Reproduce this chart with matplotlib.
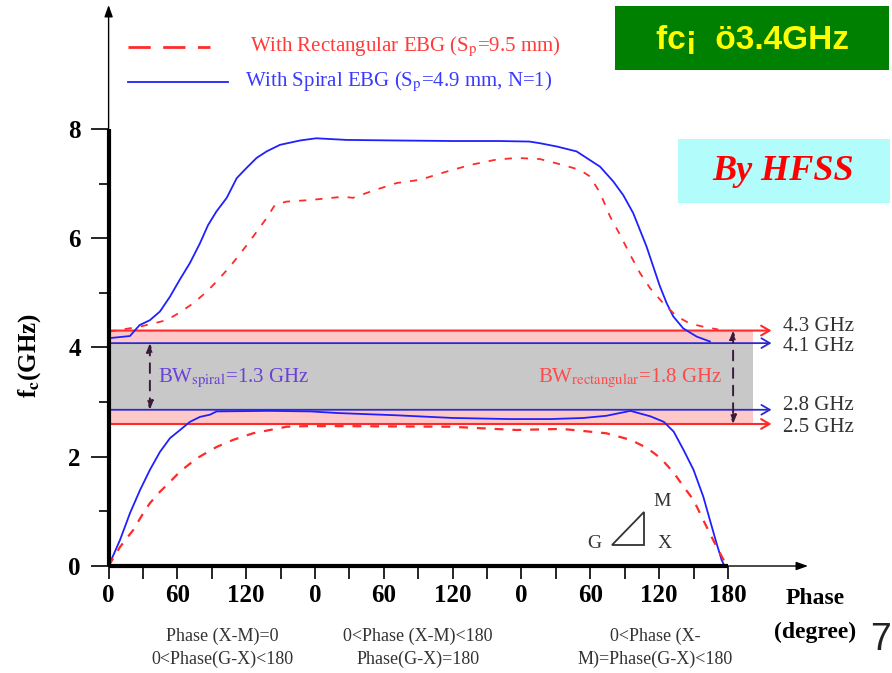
import matplotlib
matplotlib.use('Agg')
import matplotlib.pyplot as plt
from matplotlib.patches import Rectangle, Polygon

plt.rcParams['font.family'] = ['Liberation Serif', 'DejaVu Serif']
plt.rcParams['mathtext.fontset'] = 'stix'

# data (x = position along the G-X-M path, 0..540 -> three 0..180 segments)
spiral_upper_x = [0, 18.6, 27, 36, 44.8, 53.5, 62, 71, 79.7, 86.7, 94, 103, 111.7, 120.4, 129, 137.8,
                  149.4, 167, 181, 207.6, 250, 300, 340, 367, 376, 390.7, 408, 428.5, 440, 448.7,
                  457.4, 463.3, 469, 474.9, 480.7, 486.6, 492.3, 501, 512.7, 524.3]
spiral_upper_y = [4.17, 4.21, 4.41, 4.5, 4.66, 4.93, 5.24, 5.55, 5.91, 6.24, 6.49, 6.74, 7.1, 7.29, 7.47, 7.59,
                  7.71, 7.79, 7.83, 7.8, 7.79, 7.78, 7.78, 7.77, 7.74, 7.68, 7.59, 7.31, 7.04, 6.79,
                  6.46, 6.15, 5.85, 5.48, 5.12, 4.81, 4.57, 4.35, 4.2, 4.11]
rect_upper_x = [0, 27, 50.6, 62, 73.8, 85.5, 94.2, 105.8, 117.4, 126, 137.8, 145, 155, 175.6, 204.6,
                213, 230.5, 251, 271.5, 294.7, 315, 338, 355.8, 376, 396.4, 411, 419.8, 428.5, 437.2,
                446, 454.7, 463.4, 472, 483.6, 495.3, 506.8, 518.5, 531.5]
rect_upper_y = [4.29, 4.38, 4.5, 4.64, 4.81, 5.02, 5.21, 5.48, 5.79, 6.03, 6.37, 6.61, 6.67, 6.7, 6.76,
                6.74, 6.87, 7.01, 7.07, 7.22, 7.34, 7.44, 7.47, 7.45, 7.34, 7.25, 7.13, 6.83, 6.4,
                6.06, 5.7, 5.36, 5.09, 4.81, 4.57, 4.44, 4.38, 4.33]
spiral_lower_x = [0, 10, 18.7, 27.4, 36, 44.8, 53.5, 62.3, 71, 79.7, 88.4, 94.2, 140, 176, 200, 250,
                  300, 350, 385, 414, 434, 455, 472.4, 484, 492.7, 501.4, 510, 518.5, 524.3, 530, 534.5, 537]
spiral_lower_y = [0.0, 0.48, 0.97, 1.39, 1.76, 2.09, 2.34, 2.49, 2.64, 2.73, 2.77, 2.83, 2.84, 2.83, 2.8, 2.76,
                  2.71, 2.69, 2.69, 2.71, 2.75, 2.84, 2.74, 2.64, 2.46, 2.12, 1.76, 1.27, 0.84, 0.42, 0.11, 0.0]
rect_lower_x = [0, 10, 21.5, 30.3, 36, 44.8, 53.5, 62.3, 76.8, 94.2, 108.7, 126, 140.7, 155.3, 172.7,
                207.6, 297.7, 355.8, 395, 434, 455, 469.6, 481.5, 493, 501.4, 510, 518.5, 527, 537, 540]
rect_lower_y = [0.0, 0.35, 0.66, 0.97, 1.15, 1.36, 1.54, 1.73, 1.97, 2.18, 2.31, 2.43, 2.49, 2.55, 2.56,
                2.56, 2.55, 2.49, 2.51, 2.43, 2.31, 2.16, 1.97, 1.7, 1.45, 1.21, 0.84, 0.48, 0.08, 0.0]

rect_band = [2.6, 4.31]      # drawn band edges, labelled 2.5 / 4.3 GHz
spiral_band = [2.86, 4.08]   # drawn band edges, labelled 2.8 / 4.1 GHz
band_labels = ['2.5 GHz', '4.3 GHz', '2.8 GHz', '4.1 GHz']
xtick_pos = [0, 60, 120, 180, 240, 300, 360, 420, 480, 540]
xtick_labels = ['0', '60', '120', '0', '60', '120', '0', '60', '120', '180']

RED = '#ff2a2a'
BLUE = '#2020ff'
W, H = 892, 673


def px(x, y):
    return x / W, 1 - y / H


fig = plt.figure(figsize=(W / 100, H / 100), dpi=100)
ax = fig.add_axes([108.6 / W, (H - 566) / H, 699.4 / W, 561 / H])
ax.set_xlim(0, 609.8)
ax.set_ylim(0, 10.27)
for s in ax.spines.values():
    s.set_visible(False)

# band shading
ax.add_patch(Rectangle((0, rect_band[0]), 562, rect_band[1] - rect_band[0], facecolor='#ffc8c8', edgecolor='none', zorder=1))
ax.add_patch(Rectangle((0, spiral_band[0]), 562, spiral_band[1] - spiral_band[0], facecolor='#c8c8c8', edgecolor='none', zorder=1))
for yv in rect_band:
    ax.annotate('', xy=(578, yv), xytext=(0, yv), zorder=2,
                arrowprops=dict(arrowstyle='->,head_length=0.6,head_width=0.35', color=RED, lw=1.5, shrinkA=0, shrinkB=0))
for yv in spiral_band:
    ax.annotate('', xy=(578, yv), xytext=(0, yv), zorder=2,
                arrowprops=dict(arrowstyle='->,head_length=0.6,head_width=0.35', color='#2a2ad0', lw=1.3, shrinkA=0, shrinkB=0))
for yv, lab in zip(rect_band + spiral_band, band_labels):
    off = {'2.5 GHz': -0.06, '4.3 GHz': 0.08, '2.8 GHz': 0.08, '4.1 GHz': -0.06}[lab]
    ax.text(588, yv + off, lab, fontsize=15, color='#333333', va='center', ha='left', clip_on=False)

# BW arrows
ax.annotate('', xy=(36, spiral_band[0]), xytext=(36, spiral_band[1]),
            arrowprops=dict(arrowstyle='<|-|>,head_length=0.5,head_width=0.2', color='#3a1a3a', lw=1.4, ls=(0, (5, 4)), shrinkA=0, shrinkB=0))
ax.annotate('', xy=(544.5, rect_band[0]), xytext=(544.5, rect_band[1]),
            arrowprops=dict(arrowstyle='<|-|>,head_length=0.5,head_width=0.2', color='#3a1a3a', lw=1.4, ls=(0, (5, 4)), shrinkA=0, shrinkB=0))
ax.text(43, 3.44, r'BW$_{\mathrm{spiral}}$=1.3 GHz', fontsize=15, color='#6a40d8', va='center', ha='left')
ax.text(535, 3.44, r'BW$_{\mathrm{rectangular}}$=1.8 GHz', fontsize=15, color='#ff4a4a', va='center', ha='right')

# curves
ax.plot(spiral_upper_x, spiral_upper_y, color=BLUE, lw=1.3, zorder=4)
ax.plot(spiral_lower_x, spiral_lower_y, color=BLUE, lw=1.3, zorder=4)
ax.plot(rect_upper_x, rect_upper_y, color=RED, lw=1.3, dashes=(4, 5), zorder=4)
ax.plot(rect_lower_x, rect_lower_y, color=RED, lw=1.6, dashes=(4, 4), zorder=4)

# axes lines
ax.plot([0, 0], [0, 8], color='black', lw=3, solid_capstyle='butt', clip_on=False, zorder=5)
ax.plot([0, 540], [0, 0], color='black', lw=3, solid_capstyle='butt', clip_on=False, zorder=5)
ax.annotate('', xy=(0, 10.27), xytext=(0, 7.9), annotation_clip=False,
            arrowprops=dict(arrowstyle='-|>,head_length=0.7,head_width=0.25', color='black', lw=1, shrinkA=0, shrinkB=0))
ax.annotate('', xy=(609.8, 0), xytext=(530, 0), annotation_clip=False,
            arrowprops=dict(arrowstyle='-|>,head_length=0.7,head_width=0.25', color='black', lw=1, shrinkA=0, shrinkB=0))

# ticks
ax.set_xticks(xtick_pos)
ax.set_xticklabels(xtick_labels, fontsize=18, fontweight='bold')
ax.set_xticks([30 + 60 * i for i in range(9)], minor=True)
ax.tick_params(axis='x', which='both', direction='out', length=9, width=1.2, pad=4)
ax.set_yticks([0, 2, 4, 6, 8])
ax.set_yticklabels(['0', '2', '4', '6', '8'], fontsize=18, fontweight='bold')
ax.set_yticks([1, 3, 5, 7], minor=True)
ax.tick_params(axis='y', which='major', direction='out', length=13, width=1.2, pad=7)
ax.tick_params(axis='y', which='minor', direction='out', length=7, width=1.2)

# legend (drawn by hand)
ax.plot([17, 88.6], [9.5, 9.5], color=RED, lw=2, dashes=(8, 4.5), clip_on=False)
ax.plot([17, 104], [8.86, 8.86], color=BLUE, lw=1.3, clip_on=False)
fig.text(*px(250, 47), r'With Rectangular EBG (S$_\mathrm{p}$=9.5 mm)', fontsize=15, color='#ff3a3a', va='center')
fig.text(*px(245, 82), r'With Spiral EBG (S$_\mathrm{p}$=4.9 mm, N=1)', fontsize=15, color='#3a3aff', va='center')

# labels
fig.text(*px(30, 355), r'f$_{\mathbf{c}}$(GHz)', fontsize=18, fontweight='bold', rotation=90, ha='center', va='center')
fig.text(*px(815, 599), 'Phase', fontsize=17, fontweight='bold', ha='center', va='center')
fig.text(*px(815, 632), '(degree)', fontsize=17, fontweight='bold', ha='center', va='center')
fig.text(*px(881, 640), '7', fontsize=27, family='Liberation Sans', color='#222222', ha='center', va='center')
seg_text = ['Phase (X-M)=0\n0<Phase(G-X)<180',
            '0<Phase (X-M)<180\nPhase(G-X)=180',
            '0<Phase (X-\nM)=Phase(G-X)<180']
for xc, t in zip([222, 418, 655], seg_text):
    fig.text(*px(xc, 648), t, fontsize=13, color='#333333', ha='center', va='center', linespacing=1.45)

# triangle inset
tri = Polygon([px(612, 545), px(644, 545), px(644, 512)], closed=True, fill=False,
              edgecolor='#333333', lw=1.3, transform=fig.transFigure)
fig.patches.append(tri)
fig.text(*px(594, 544), 'G', fontsize=14, color='#333333', ha='center', va='center')
fig.text(*px(662, 501), 'M', fontsize=14, color='#333333', ha='center', va='center')
fig.text(*px(665, 543), 'X', fontsize=14, color='#333333', ha='center', va='center')

# boxes
fig.patches.append(Rectangle(px(615, 70), 274 / W, 64 / H, facecolor='#008000', edgecolor='none', transform=fig.transFigure))
fig.text(*px(752, 41), 'fc¡  ö3.4GHz', fontsize=24, fontweight='bold', family='Liberation Sans',
         color='#ffff00', ha='center', va='center')
fig.patches.append(Rectangle(px(678, 203), 212 / W, 64 / H, facecolor='#b2fcfc', edgecolor='none', transform=fig.transFigure))
fig.text(*px(783, 172), 'By HFSS', fontsize=26, fontweight='bold', fontstyle='italic', color='#ff0000', ha='center', va='center')

fig.savefig('out.png', dpi=100)
